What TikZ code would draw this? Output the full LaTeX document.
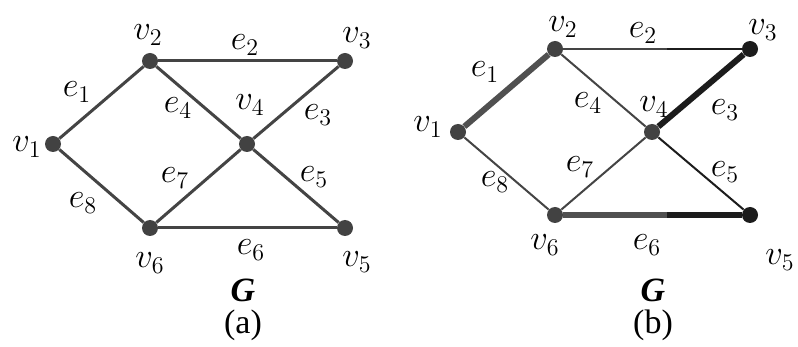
\documentclass[tikz,border=0pt]{standalone}
\usepackage{fontspec}
\setmainfont{Liberation Serif}
\usetikzlibrary{positioning}
\definecolor{vtx}{RGB}{66,66,66}
\definecolor{vdark}{RGB}{28,28,28}
\definecolor{edgegray}{RGB}{68,68,68}
\definecolor{thickgray}{RGB}{80,80,80}

\begin{document}
\begin{tikzpicture}[x=0.5pt,y=-0.5pt,font=\fontsize{18}{20}\selectfont,
  vert/.style={circle,fill=vtx,inner sep=0pt,minimum size=8pt},
  edg/.style={draw=edgegray,line width=1.5pt},
  thinedge/.style={draw=edgegray,line width=1pt},
  thickedge/.style={draw=thickgray,line width=3pt},
  captext/.style={font=\fontsize{17}{19}\selectfont}]
  \useasboundingbox (0,0) rectangle (798,347);
  % (a)
  \node[vert] (a1) at (53,144) {};
  \node[vert] (a2) at (150,61) {};
  \node[vert] (a3) at (345,61) {};
  \node[vert] (a4) at (247,144) {};
  \node[vert] (a5) at (345,228) {};
  \node[vert] (a6) at (150,228) {};
  \draw[edg] (a1) -- (a2); \draw[edg] (a2) -- (a3);
  \draw[edg] (a3) -- (a4); \draw[edg] (a2) -- (a4);
  \draw[edg] (a4) -- (a5); \draw[edg] (a6) -- (a5);
  \draw[edg] (a6) -- (a4); \draw[edg] (a1) -- (a6);
  \node (la1) at (27,147) {$v_1$};
  \node (la2) at (148,35) {$v_2$};
  \node (la3) at (357,38) {$v_3$};
  \node (la4) at (250,105) {$v_4$};
  \node (la5) at (357,262) {$v_5$};
  \node (la6) at (150,263) {$v_6$};
  \node (ea1) at (77,92) {$e_1$};
  \node (ea2) at (245,45) {$e_2$};
  \node (ea3) at (318,115) {$e_3$};
  \node (ea4) at (178,108) {$e_4$};
  \node (ea5) at (314,177) {$e_5$};
  \node (ea6) at (251,250) {$e_6$};
  \node (ea7) at (175,178) {$e_7$};
  \node (ea8) at (83,203) {$e_8$};
  \node[captext] (ga) at (243,290) {\textbf{\textit{G}}};
  \node[captext] (capa) at (243,325) {(a)};
  % (b)
  \node[vert] (b1) at (458,132) {};
  \node[vert] (b2) at (555,49) {};
  \node[vert,fill=vdark] (b3) at (750,49) {};
  \node[vert] (b4) at (652,132) {};
  \node[vert,fill=vdark] (b5) at (750,215) {};
  \node[vert] (b6) at (555,215) {};
  \coordinate (m2) at (667,49);
  \coordinate (m6) at (667,215);
  \draw[thickedge] (b1) -- (b2);
  \draw[thinedge] (b2) -- (m2);
  \draw[thinedge,draw=vdark] (m2) -- (b3);
  \draw[thickedge,draw=vdark] (b4) -- (b3);
  \draw[thinedge] (b2) -- (b4);
  \draw[thinedge,draw=vdark] (b4) -- (b5);
  \draw[thinedge] (b6) -- (b4);
  \draw[thinedge] (b1) -- (b6);
  \draw[thickedge] (b6) -- (m6);
  \draw[thickedge,draw=vdark] (m6) -- (b5);
  \node (lb1) at (428,127) {$v_1$};
  \node (lb2) at (563,27) {$v_2$};
  \node (lb3) at (763,30) {$v_3$};
  \node (lb4) at (654,107) {$v_4$};
  \node (lb5) at (780,260) {$v_5$};
  \node (lb6) at (545,245) {$v_6$};
  \node (eb1) at (485,72) {$e_1$};
  \node (eb2) at (643,33) {$e_2$};
  \node (eb3) at (725,110) {$e_3$};
  \node (eb4) at (588,103) {$e_4$};
  \node (eb5) at (725,172) {$e_5$};
  \node (eb6) at (647,245) {$e_6$};
  \node (eb7) at (580,167) {$e_7$};
  \node (eb8) at (495,182) {$e_8$};
  \node[captext] (gb) at (653,290) {\textbf{\textit{G}}};
  \node[captext] (capb) at (653,325) {(b)};
\end{tikzpicture}
\end{document}
